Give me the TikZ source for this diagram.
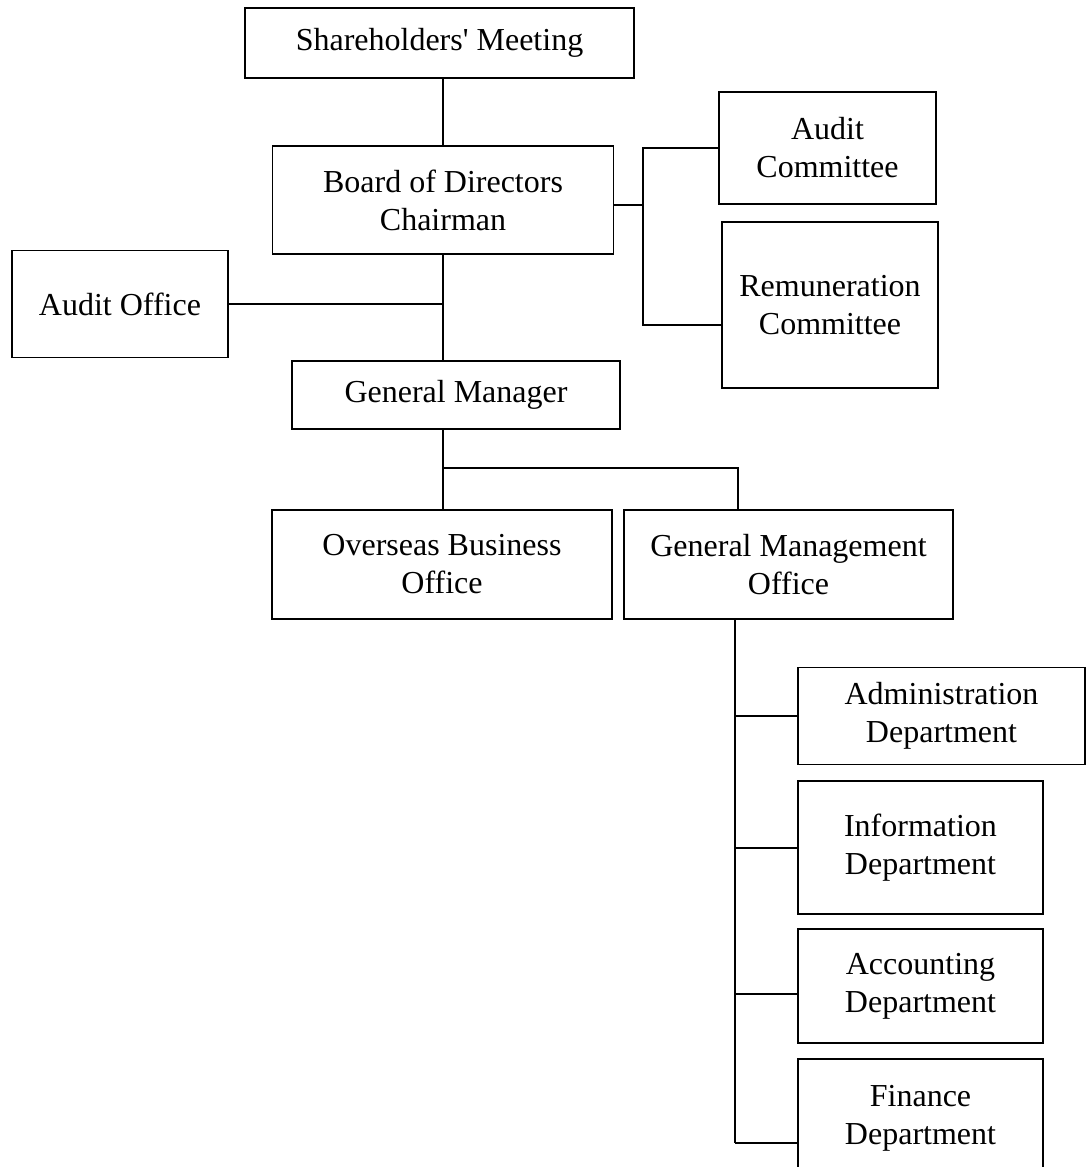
\documentclass[tikz,border=0pt]{standalone}
\usepackage{fontspec}
\setmainfont{Liberation Serif}
\usetikzlibrary{positioning}

\begin{document}
\begin{tikzpicture}[x=0.5pt, y=-0.5pt, font=\fontsize{16}{19}\selectfont,
  unit/.style={draw=black, line width=0.9pt, align=center, inner sep=0pt,
    minimum width=#1},
  link/.style={draw=black, line width=0.9pt}]
  \useasboundingbox (0,0) rectangle (1086,1167);
  \node[unit=194.5pt, minimum height=35pt] (share) at (439.5,43) {Shareholders\textquotesingle{} Meeting};
  \node[unit=170.5pt, minimum height=54pt] (board) at (443,200) {Board of Directors\\Chairman};
  \node[unit=108.5pt, minimum height=56pt] (auditc) at (827.5,148) {Audit\\Committee};
  \node[unit=108pt, minimum height=83pt] (remun) at (830,305) {Remuneration\\Committee};
  \node[unit=108pt, minimum height=53.5pt] (auditoff) at (120,304) {Audit Office};
  \node[unit=164pt, minimum height=34pt] (gm) at (456,395) {General Manager};
  \node[unit=170pt, minimum height=54.5pt] (overseas) at (442,564.5) {Overseas Business\\Office};
  \node[unit=164.5pt, minimum height=54.5pt] (gmo) at (788.5,564.5) {General Management\\Office};
  \node[unit=143.5pt, minimum height=48.5pt] (admin) at (941.5,716) {Administration\\Department};
  \node[unit=122.5pt, minimum height=66.5pt] (info) at (920.5,847.5) {Information\\Department};
  \node[unit=122.5pt, minimum height=57pt] (acct) at (920.5,986) {Accounting\\Department};
  \node[unit=122.5pt, minimum height=59pt] (fin) at (920.5,1118) {Finance\\Department};
  \coordinate (cj) at (643,205);
  \coordinate (rj) at (643,325);
  \coordinate (gj) at (443,468);
  \coordinate (gk) at (738,468);
  \draw[link] (share.south -| board.south) -- (board.north);
  \draw[link] (board.east |- cj) -- (cj);
  \draw[link] (auditc.west) -- (auditc.west -| cj) -- (rj) -- (rj -| remun.west);
  \draw[link] (board.south) -- (board.south |- gm.north);
  \draw[link] (auditoff.east) -- (auditoff.east -| board.south);
  \draw[link] (gm.south -| gj) -- (gj) -- (gj |- overseas.north);
  \draw[link] (gj) -- (gk) -- (gk |- gmo.north);
  \foreach \d/\y in {admin/716,info/848,acct/994,fin/1143} {
    \coordinate (t\d) at (735,\y);
    \draw[link] (t\d) -- (t\d -| \d.west);
  }
  \draw[link] (gmo.south -| tadmin) -- (tfin);
\end{tikzpicture}
\end{document}
